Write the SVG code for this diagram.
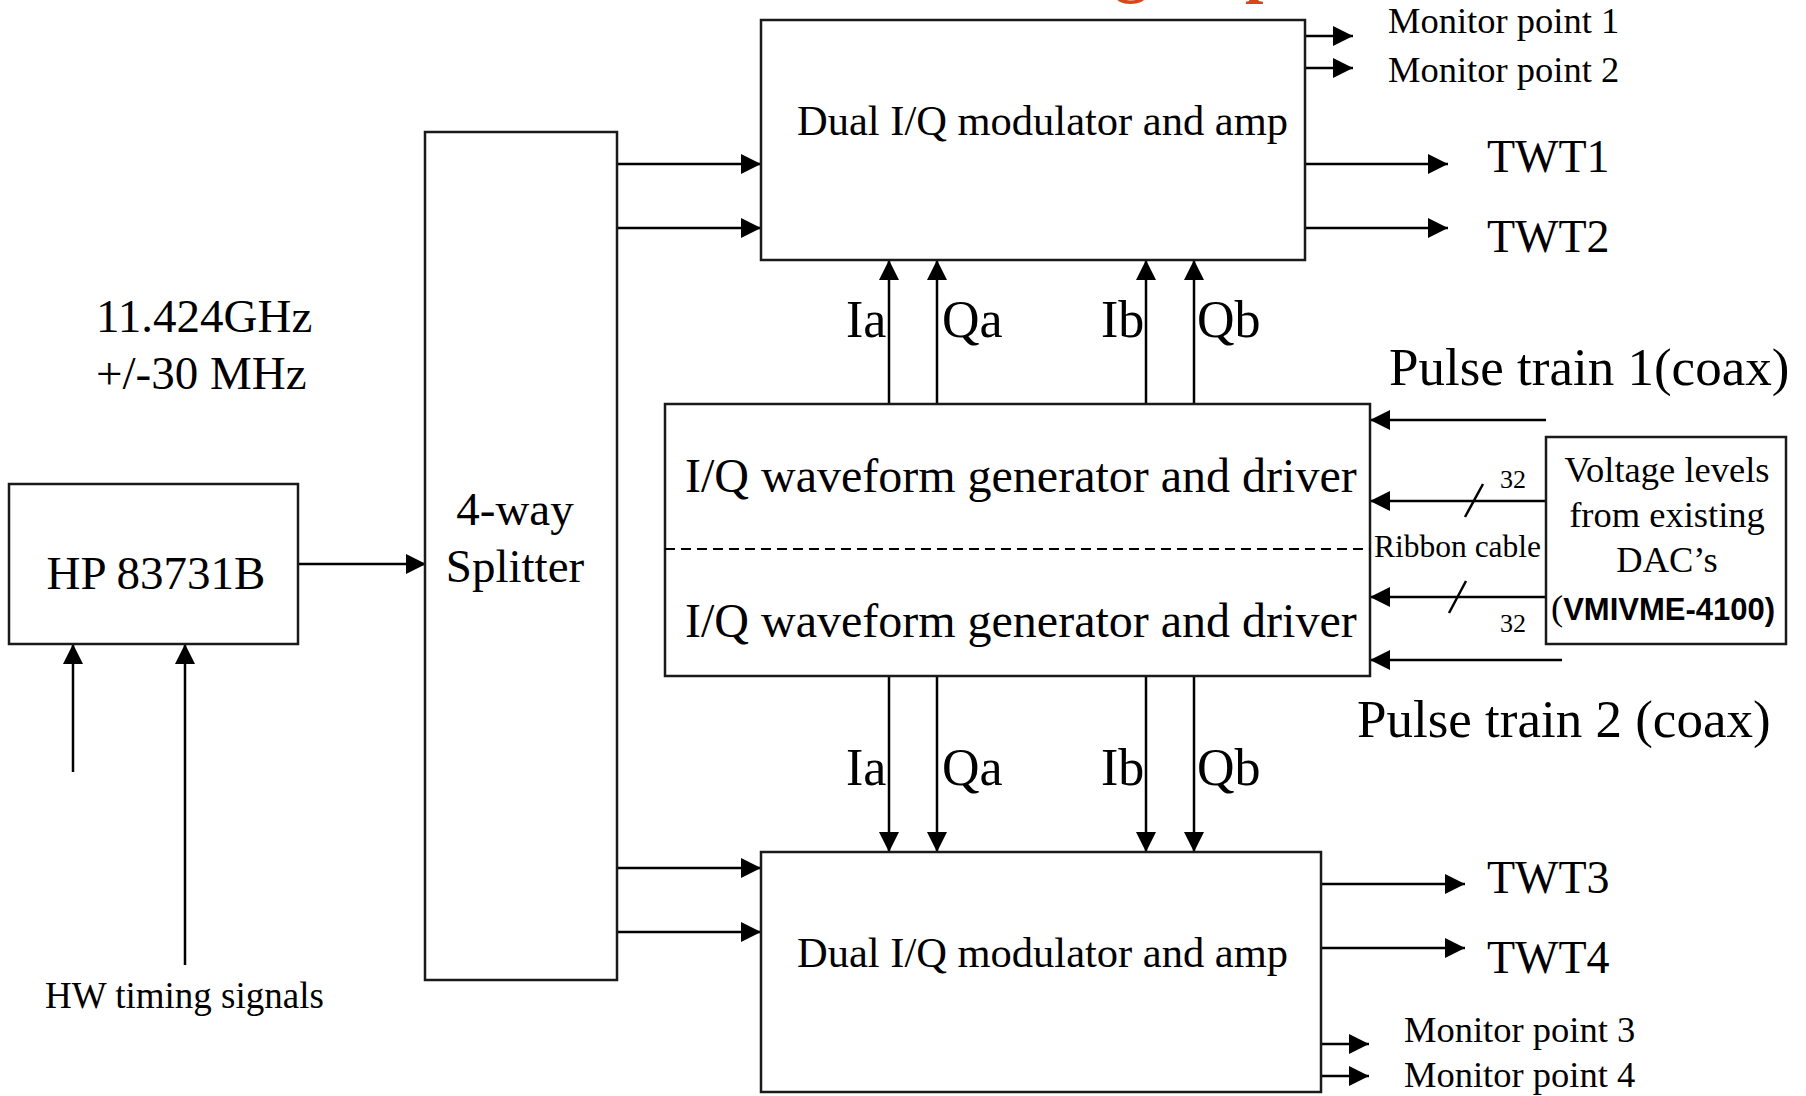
<svg xmlns="http://www.w3.org/2000/svg" width="1806" height="1096" viewBox="0 0 1806 1096">
<style>
.box{fill:#fff;stroke:#1a1a1a;stroke-width:2.5}
.ln{fill:none;stroke:#000;stroke-width:2.5}
.t{font-family:"Liberation Serif","Times New Roman",serif;fill:#000}
.c{text-anchor:middle}
</style>
<defs>
<marker id="arr" markerUnits="userSpaceOnUse" markerWidth="20" markerHeight="20" viewBox="0 0 20 20" refX="20" refY="10" orient="auto">
<path d="M0,0 L20,10 L0,20 z" fill="#000"/>
</marker>
</defs>
<rect width="1806" height="1096" fill="#fff"/>
<text class="t" x="1115 1245" y="-10" font-size="66" font-weight="bold" style="fill:#D9461A">gp</text>

<g id="connectors">
<path class="ln" marker-end="url(#arr)" d="M297,564 H426"/>
<path class="ln" marker-end="url(#arr)" d="M617,164 H761"/>
<path class="ln" marker-end="url(#arr)" d="M617,228 H761"/>
<path class="ln" marker-end="url(#arr)" d="M617,868 H761"/>
<path class="ln" marker-end="url(#arr)" d="M617,932 H761"/>
<path class="ln" marker-end="url(#arr)" d="M1305,36 H1353"/>
<path class="ln" marker-end="url(#arr)" d="M1305,68 H1353"/>
<path class="ln" marker-end="url(#arr)" d="M1305,164 H1448"/>
<path class="ln" marker-end="url(#arr)" d="M1305,228 H1448"/>
<path class="ln" marker-end="url(#arr)" d="M889,404 V260"/>
<path class="ln" marker-end="url(#arr)" d="M937,404 V260"/>
<path class="ln" marker-end="url(#arr)" d="M1146,404 V260"/>
<path class="ln" marker-end="url(#arr)" d="M1194,404 V260"/>
<path class="ln" marker-end="url(#arr)" d="M889,676 V852"/>
<path class="ln" marker-end="url(#arr)" d="M937,676 V852"/>
<path class="ln" marker-end="url(#arr)" d="M1146,676 V852"/>
<path class="ln" marker-end="url(#arr)" d="M1194,676 V852"/>
<path class="ln" marker-end="url(#arr)" d="M1546,420 H1370"/>
<path class="ln" marker-end="url(#arr)" d="M1562,660 H1370"/>
<path class="ln" marker-end="url(#arr)" d="M1546,501 H1370"/>
<path class="ln" marker-end="url(#arr)" d="M1546,597 H1370"/>
<path class="ln" d="M1465,517 L1483,484"/>
<path class="ln" d="M1449,613 L1466,581"/>
<path class="ln" marker-end="url(#arr)" d="M1321,884 H1465"/>
<path class="ln" marker-end="url(#arr)" d="M1321,948 H1465"/>
<path class="ln" marker-end="url(#arr)" d="M1321,1044 H1369"/>
<path class="ln" marker-end="url(#arr)" d="M1321,1076 H1369"/>
<path class="ln" marker-end="url(#arr)" d="M73,772 V644"/>
<path class="ln" marker-end="url(#arr)" d="M185,965 V644"/>
</g>

<g id="hp">
<rect class="box" x="9" y="484" width="289" height="160"/>
<text class="t c" x="156" y="589" font-size="47">HP 83731B</text>
</g>

<g id="splitter">
<rect class="box" x="425" y="132" width="192" height="848"/>
<text class="t c" x="515" y="525" font-size="47">4-way</text>
<text class="t c" x="515" y="582" font-size="47">Splitter</text>
</g>

<g id="mod-top">
<rect class="box" x="761" y="20" width="544" height="240"/>
<text class="t" x="797" y="135" font-size="42.5">Dual I/Q modulator and amp</text>
</g>

<g id="waveform">
<rect class="box" x="665" y="404" width="705" height="272"/>
<path d="M665,549 H1370" fill="none" stroke="#000" stroke-width="2" stroke-dasharray="10 6"/>
<text class="t" x="685" y="492" font-size="48">I/Q waveform generator and driver</text>
<text class="t" x="685" y="637" font-size="48">I/Q waveform generator and driver</text>
</g>

<g id="mod-bottom">
<rect class="box" x="761" y="852" width="560" height="240"/>
<text class="t" x="797" y="967" font-size="42.5">Dual I/Q modulator and amp</text>
</g>

<g id="dac">
<rect class="box" x="1546" y="437" width="240" height="207"/>
<text class="t c" x="1667" y="482" font-size="36.5">Voltage levels</text>
<text class="t c" x="1667" y="527" font-size="36.5">from existing</text>
<text class="t c" x="1667" y="572" font-size="36.5">DAC’s</text>
<text class="t" x="1551" y="620" font-size="36.5">(<tspan font-family="'Liberation Sans',Arial,sans-serif" font-weight="bold" font-size="31">VMIVME-4100)</tspan></text>
</g>

<g id="labels">
<text class="t" x="96" y="332" font-size="47">11.424GHz</text>
<text class="t" x="96" y="389" font-size="47">+/-30 MHz</text>
<text class="t" x="45" y="1008" font-size="37">HW timing signals</text>
<text class="t" x="846" y="337" font-size="52">Ia</text>
<text class="t" x="942" y="337" font-size="52">Qa</text>
<text class="t" x="1101" y="337" font-size="52">Ib</text>
<text class="t" x="1197" y="337" font-size="52">Qb</text>
<text class="t" x="846" y="785" font-size="52">Ia</text>
<text class="t" x="942" y="785" font-size="52">Qa</text>
<text class="t" x="1101" y="785" font-size="52">Ib</text>
<text class="t" x="1197" y="785" font-size="52">Qb</text>
<text class="t" x="1388" y="33" font-size="36.5">Monitor point 1</text>
<text class="t" x="1388" y="82" font-size="36.5">Monitor point 2</text>
<text class="t" x="1487" y="172" font-size="46">TWT1</text>
<text class="t" x="1487" y="252" font-size="46">TWT2</text>
<text class="t" x="1389" y="385" font-size="53">Pulse train 1(coax)</text>
<text class="t" x="1357" y="737" font-size="53">Pulse train 2 (coax)</text>
<text class="t" x="1374" y="557" font-size="31.5">Ribbon cable</text>
<text class="t" x="1500" y="488" font-size="26">32</text>
<text class="t" x="1500" y="632" font-size="26">32</text>
<text class="t" x="1487" y="893" font-size="46">TWT3</text>
<text class="t" x="1487" y="973" font-size="46">TWT4</text>
<text class="t" x="1404" y="1042" font-size="36.5">Monitor point 3</text>
<text class="t" x="1404" y="1087" font-size="36.5">Monitor point 4</text>
</g>
</svg>
